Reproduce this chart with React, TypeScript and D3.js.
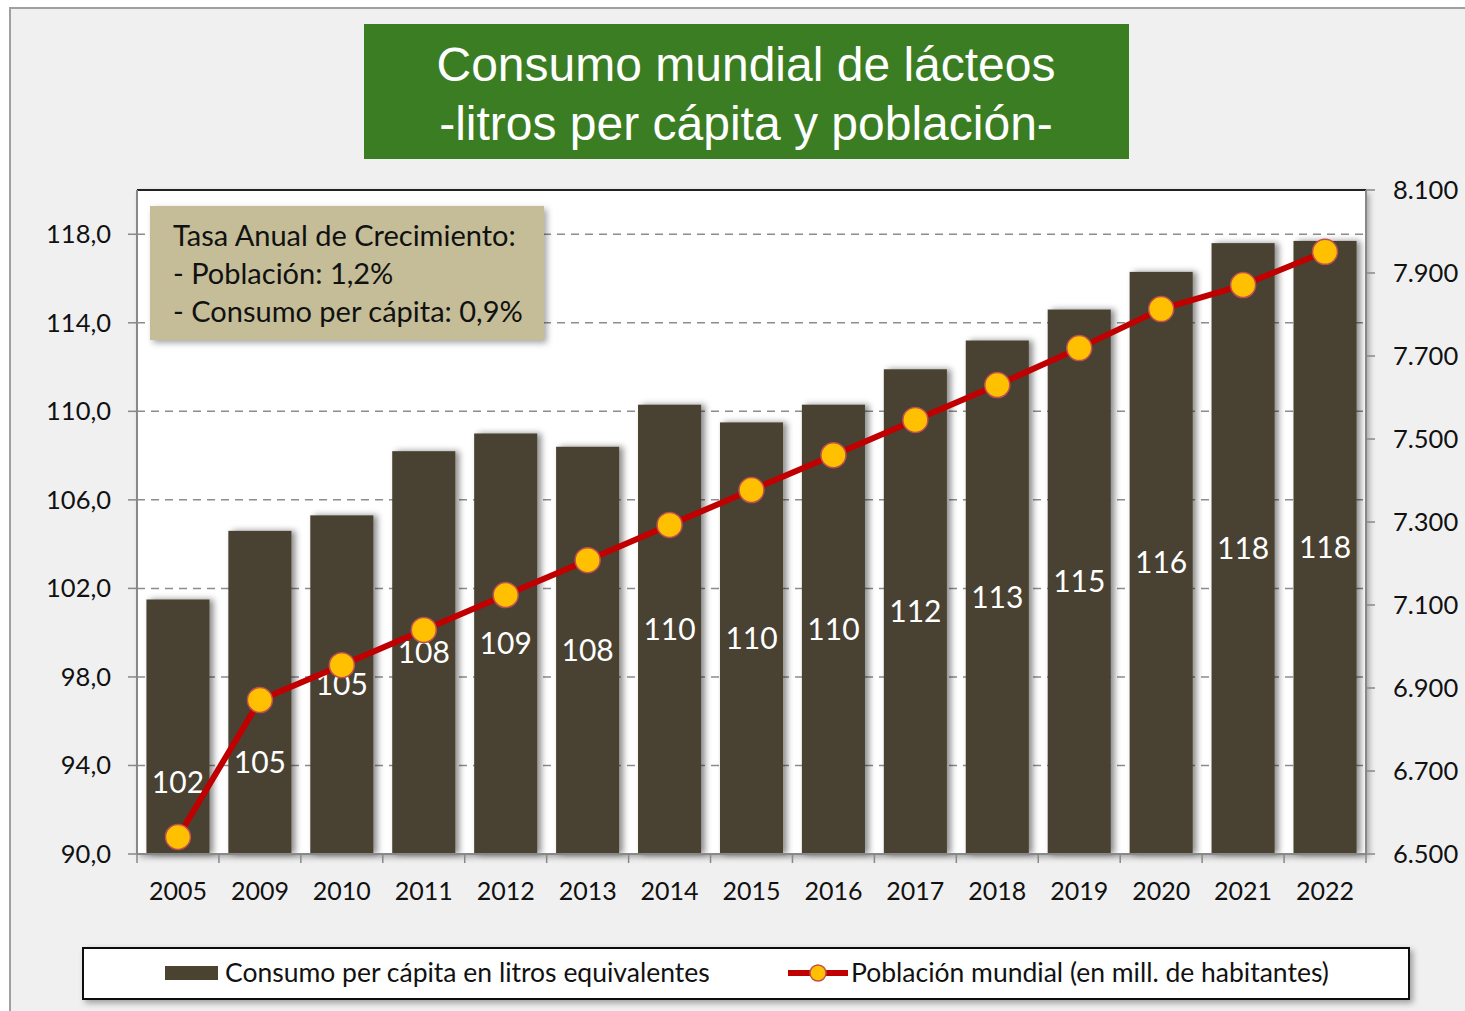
import * as d3 from "d3";

const years = ["2005", "2009", "2010", "2011", "2012", "2013", "2014", "2015", "2016", "2017", "2018", "2019", "2020", "2021", "2022"];
const consumo = [101.5, 104.6, 105.3, 108.2, 109.0, 108.4, 110.3, 109.5, 110.3, 111.9, 113.2, 114.6, 116.3, 117.6, 117.7];
const consumoLabels = ["102", "105", "105", "108", "109", "108", "110", "110", "110", "112", "113", "115", "116", "118", "118"];
const poblacion = [6541, 6871, 6955, 7040, 7124, 7208, 7293, 7377, 7461, 7546, 7630, 7719, 7813, 7871, 7951];
const leftTicks = [90, 94, 98, 102, 106, 110, 114, 118];
const rightTicks = [6500, 6700, 6900, 7100, 7300, 7500, 7700, 7900, 8100];
const tasaLines = ["Tasa Anual de Crecimiento:", "- Población: 1,2%", "- Consumo per cápita: 0,9%"];
const titleLines = ["Consumo mundial de lácteos", "-litros per cápita y población-"];

const W = 1465;
const H = 1011;
const plot = { left: 137, right: 1366, top: 190, bottom: 854 };
const FONT = "Lato, 'Open Sans', sans-serif";
const BAR = "#4a4330";
const LINE = "#c00000";
const DOT = "#ffc000";

// label moved off the line for the first two years
const labelNudge: Record<string, number> = { "2005": 56, "2009": 70 };

export default function App() {
  const x = d3.scaleBand<string>()
    .domain(years)
    .range([plot.left, plot.right])
    .paddingInner(0.23)
    .paddingOuter(0.115);
  const yL = d3.scaleLinear().domain([90, 120]).range([plot.bottom, plot.top]);
  const yR = d3.scaleLinear().domain([6500, 8100]).range([plot.bottom, plot.top]);

  const line = d3.line<number>()
    .x((_, i) => x(years[i])! + x.bandwidth() / 2)
    .y(d => yR(d));

  const fmtL = (v: number) => v.toFixed(1).replace(".", ",");
  const fmtR = (v: number) => d3.format(",")(v).replace(",", ".");
  const step = x.step();

  return (
    <svg width={W} height={H} style={{ display: "block", position: "absolute", left: 0, top: 0 }} fontFamily={FONT}>
      <defs>
        <filter id="shadow" x="-20%" y="-20%" width="140%" height="140%">
          <feDropShadow dx="4" dy="0" stdDeviation="3" floodColor="#000" floodOpacity="0.45" />
        </filter>
        <filter id="boxShadow" x="-10%" y="-10%" width="120%" height="130%">
          <feDropShadow dx="3" dy="3" stdDeviation="3" floodColor="#000" floodOpacity="0.35" />
        </filter>
      </defs>
      <rect width={W} height={H} fill="#fff" />
      <rect x={10} y={8} width={W} height={H} fill="#f0f0f0" stroke="#a0a0a0" strokeWidth={2} />

      {/* title */}
      <rect x={364} y={24} width={765} height={135} fill="#3b7d23" />
      {titleLines.map((t, i) => (
        <text key={t} x={746} y={64 + i * 59} dy="0.35em" textAnchor="middle" fill="#fff"
          fontFamily="'Liberation Sans Narrow', 'Arial Narrow', 'Liberation Sans', sans-serif" fontSize={48}>
          {t}
        </text>
      ))}

      {/* plot area */}
      <rect x={plot.left} y={plot.top} width={plot.right - plot.left} height={plot.bottom - plot.top}
        fill="#fff" filter="url(#boxShadow)" />
      <line x1={plot.left} x2={plot.right} y1={plot.top} y2={plot.top} stroke="#222" strokeWidth={2} />

      {leftTicks.filter(t => t > 90).map(t => (
        <line key={t} x1={plot.left} x2={plot.right} y1={yL(t)} y2={yL(t)} stroke="#8c8c8c"
          strokeWidth={1.5} strokeDasharray="8,6" />
      ))}

      {/* bars */}
      <g filter="url(#shadow)">
        {years.map((yr, i) => (
          <rect key={yr} x={x(yr)} y={yL(consumo[i])} width={x.bandwidth()}
            height={plot.bottom - yL(consumo[i])} fill={BAR} />
        ))}
      </g>

      {/* axes */}
      <line x1={plot.left} x2={plot.left} y1={plot.top} y2={plot.bottom} stroke="#888" strokeWidth={2} />
      <line x1={plot.right} x2={plot.right} y1={plot.top} y2={plot.bottom} stroke="#888" strokeWidth={2} />
      <line x1={plot.left} x2={plot.right} y1={plot.bottom} y2={plot.bottom} stroke="#888" strokeWidth={2} />
      {leftTicks.map(t => (
        <g key={t}>
          <line x1={plot.left - 9} x2={plot.left} y1={yL(t)} y2={yL(t)} stroke="#888" strokeWidth={1.5} />
          <text x={111} y={yL(t)} dy="0.35em" textAnchor="end" fontSize={25.5} fill="#111">{fmtL(t)}</text>
        </g>
      ))}
      {rightTicks.map(t => (
        <g key={t}>
          <line x1={plot.right} x2={plot.right + 9} y1={yR(t)} y2={yR(t)} stroke="#888" strokeWidth={1.5} />
          <text x={1393} y={yR(t)} dy="0.35em" fontSize={25.5} fill="#111">{fmtR(t)}</text>
        </g>
      ))}
      {d3.range(years.length + 1).map(i => (
        <line key={i} x1={plot.left + i * step} x2={plot.left + i * step} y1={plot.bottom}
          y2={plot.bottom + 9} stroke="#888" strokeWidth={1.5} />
      ))}
      {years.map(yr => (
        <text key={yr} x={x(yr)! + x.bandwidth() / 2} y={891} dy="0.35em" textAnchor="middle"
          fontSize={25} fill="#111">{yr}</text>
      ))}

      {/* bar labels */}
      {years.map((yr, i) => (
        <text key={yr} x={x(yr)! + x.bandwidth() / 2}
          y={(yL(consumo[i]) + plot.bottom) / 2 + (labelNudge[yr] ?? 0)} dy="0.35em"
          textAnchor="middle" fontSize={30} fill="#fff">{consumoLabels[i]}</text>
      ))}

      {/* population line */}
      <path d={line(poblacion)!} fill="none" stroke={LINE} strokeWidth={6} strokeLinejoin="round" />
      {poblacion.map((p, i) => (
        <circle key={i} cx={x(years[i])! + x.bandwidth() / 2} cy={yR(p)} r={12.5} fill={DOT}
          stroke="#c0504d" strokeWidth={1.5} />
      ))}

      {/* growth note */}
      <rect x={150} y={206} width={394} height={134} fill="#c4bd97" filter="url(#boxShadow)" />
      {tasaLines.map((t, i) => (
        <text key={t} x={173} y={236 + i * 38} dy="0.35em" fontSize={29} fill="#111">{t}</text>
      ))}

      {/* legend */}
      <rect x={83} y={948} width={1326} height={51} fill="#fff" stroke="#111" strokeWidth={2}
        filter="url(#boxShadow)" />
      <rect x={165} y={966} width={53} height={14} fill={BAR} />
      <text x={225} y={973} dy="0.35em" fontSize={26.5} fill="#111">Consumo per cápita en litros equivalentes</text>
      <line x1={788} x2={848} y1={973} y2={973} stroke={LINE} strokeWidth={6} />
      <circle cx={818} cy={973} r={8} fill={DOT} stroke="#c0504d" strokeWidth={1.5} />
      <text x={851} y={973} dy="0.35em" fontSize={26.5} fill="#111">Población mundial (en mill. de habitantes)</text>
    </svg>
  );
}
